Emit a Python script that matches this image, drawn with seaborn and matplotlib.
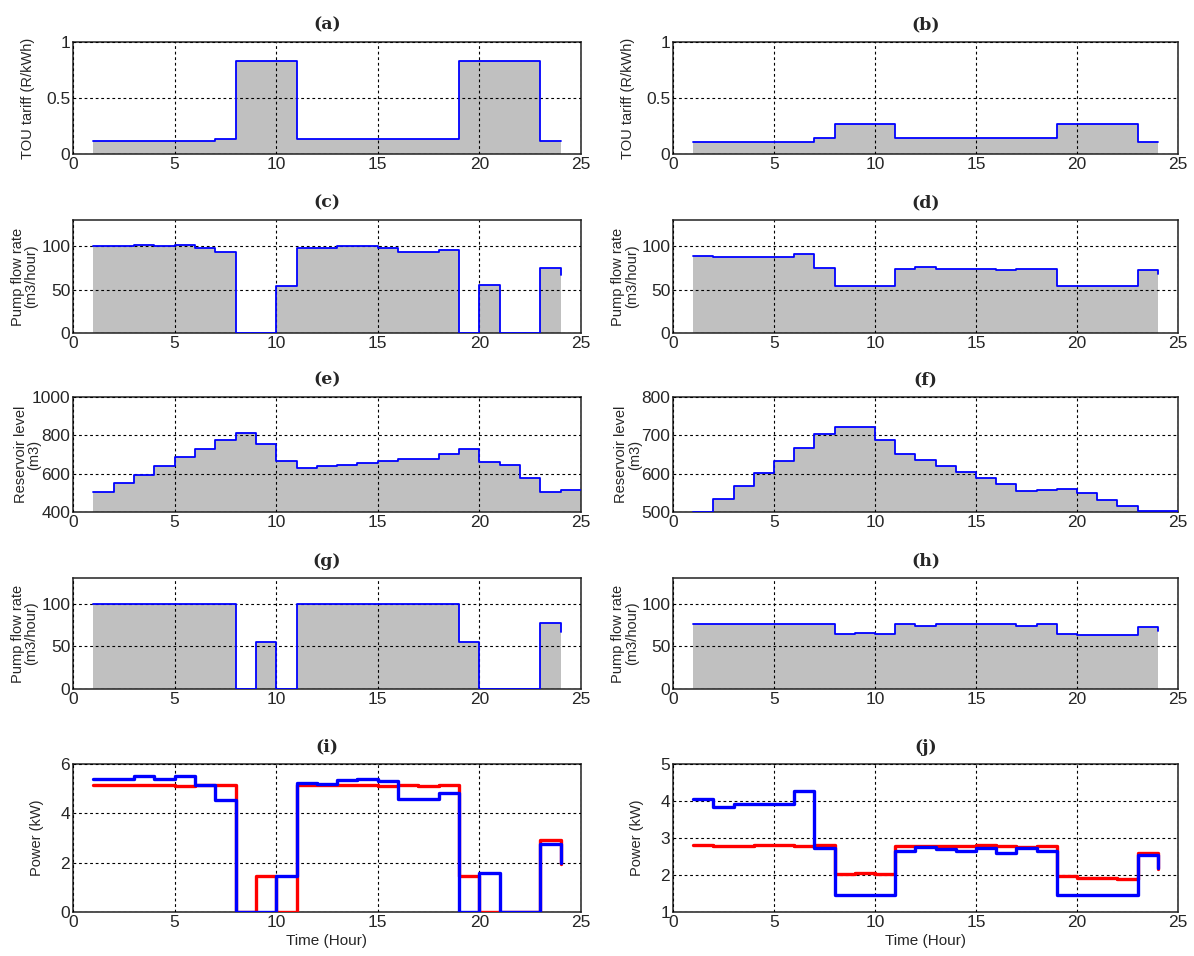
import matplotlib
matplotlib.use('Agg')
import matplotlib.pyplot as plt
import seaborn as sns
import pandas as pd

sns.set_style('white')
plt.rcParams['font.family'] = ['Liberation Sans', 'DejaVu Sans']

# ------------------------------------------------------------
# data
# ------------------------------------------------------------
hours = [1, 2, 3, 4, 5, 6, 7, 8, 9, 10, 11, 12, 13, 14, 15, 16, 17, 18, 19, 20, 21, 22, 23, 24]
hours25 = [1, 2, 3, 4, 5, 6, 7, 8, 9, 10, 11, 12, 13, 14, 15, 16, 17, 18, 19, 20, 21, 22, 23, 24, 25]

tou_a = [0.12, 0.12, 0.12, 0.12, 0.12, 0.12, 0.137, 0.827, 0.827, 0.827, 0.137, 0.137,
         0.137, 0.137, 0.137, 0.137, 0.137, 0.137, 0.827, 0.827, 0.827, 0.827, 0.12, 0.12]
tou_b = [0.107, 0.107, 0.107, 0.107, 0.107, 0.107, 0.145, 0.27, 0.27, 0.27, 0.145, 0.145,
         0.145, 0.145, 0.145, 0.145, 0.145, 0.145, 0.27, 0.27, 0.27, 0.27, 0.107, 0.107]

flow_c = [100, 100, 101, 100, 101, 98, 93, 0, 0, 54, 98, 98,
          100, 100, 98, 93, 93, 95, 0, 55, 0, 0, 75, 67]
flow_d = [88.5, 87, 88, 88, 88, 91, 75, 54.5, 54.5, 54.5, 74, 75.5,
          74, 74, 74, 73, 74, 74, 54.5, 54.5, 54.5, 54.5, 73, 68]

level_e = [506, 551, 595, 640, 685, 729, 774, 812, 755, 664, 631, 638, 645,
           657, 664, 677, 677, 704, 727, 659, 647, 576, 506, 513, 513]
level_f = [500, 535, 568, 601, 632, 668, 703, 723, 723, 688, 652, 636, 620,
           604, 588, 572, 555, 558, 561, 549, 532, 516, 503, 503, 503]

flow_g = [99, 99, 99, 99, 99, 99, 99, 0, 54.5, 0, 99, 99,
          99, 99, 99, 99, 99, 99, 54.5, 0, 0, 0, 77, 67]
flow_h = [75.8, 75.8, 75.8, 75.8, 75.8, 75.8, 75.8, 64, 65.8, 64, 75.8, 74,
          75.8, 75.8, 75.8, 75.8, 74, 75.8, 64.6, 63, 63, 63, 72.7, 68.5]

power_i_red = [5.15, 5.15, 5.15, 5.15, 5.1, 5.15, 5.15, 0, 1.45, 0, 5.15, 5.15,
               5.15, 5.15, 5.1, 5.15, 5.1, 5.15, 1.45, 0, 0, 0, 2.93, 1.95]
power_i_blue = [5.38, 5.38, 5.5, 5.38, 5.5, 5.15, 4.55, 0, 0, 1.45, 5.25, 5.17,
                5.37, 5.41, 5.3, 4.57, 4.57, 4.83, 0, 1.59, 0, 0, 2.75, 2.0]
power_j_red = [2.81, 2.78, 2.78, 2.81, 2.81, 2.79, 2.8, 2.02, 2.05, 2.02, 2.78, 2.78,
               2.78, 2.78, 2.81, 2.79, 2.76, 2.78, 1.97, 1.92, 1.92, 1.88, 2.59, 2.16]
power_j_blue = [4.06, 3.85, 3.93, 3.93, 3.93, 4.26, 2.73, 1.45, 1.45, 1.45, 2.65, 2.77,
                2.69, 2.64, 2.72, 2.59, 2.73, 2.65, 1.45, 1.45, 1.45, 1.45, 2.55, 2.2]

# ------------------------------------------------------------
# layout helpers
# ------------------------------------------------------------
W, H = 1194, 956
fig = plt.figure(figsize=(W / 100, H / 100), dpi=100)

COLS = [(73, 581), (673, 1178)]
ROWS = [(42, 154), (220, 333), (397, 512), (578, 689), (764, 912)]
GRAY = '#c0c0c0'
GRID = dict(color='black', linestyle=(0, (2.5, 2.5)), linewidth=0.8)


def make_ax(row, col):
    l, r = COLS[col]
    t, b = ROWS[row]
    return fig.add_axes([l / W, 1 - b / H, (r - l) / W, (b - t) / H])


def style(ax, title, ylim, yticks, yticklabels, ylabel, label_x, xlabel=None):
    ax.set_xlim(0, 25)
    ax.set_ylim(*ylim)
    ax.set_xticks([0, 5, 10, 15, 20, 25])
    ax.set_yticks(yticks)
    ax.set_yticklabels(yticklabels)
    ax.tick_params(labelsize=12.5, direction='in', length=3, width=0.8, pad=2)
    ax.grid(True, **GRID)
    ax.set_axisbelow(False)
    for s in ax.spines.values():
        s.set_color('#222222')
        s.set_linewidth(1.1)
    ax.set_title(title, family='DejaVu Serif', fontweight='bold', fontsize=12.5, pad=9)
    ax.set_ylabel(ylabel, fontsize=10.5, linespacing=0.95)
    ax.yaxis.set_label_coords(label_x, 0.5)
    if xlabel:
        ax.set_xlabel(xlabel, fontsize=11, labelpad=3)
    else:
        ax.set_xlabel('')


def filled_stairs(ax, x, y, base):
    ax.fill_between(x, y, base, step='post', color=GRAY, linewidth=0, zorder=1)
    sns.lineplot(x=x, y=y, ax=ax, color='#0000ff', linewidth=1.3,
                 drawstyle='steps-post', estimator=None, sort=False, zorder=3)


# ------------------------------------------------------------
# panels
# ------------------------------------------------------------
panels = [
    (0, 0, '(a)', hours, tou_a, (0, 1), [0, 0.5, 1], ['0', '0.5', '1'], 'TOU tariff (R/kWh)', -0.075),
    (0, 1, '(b)', hours, tou_b, (0, 1), [0, 0.5, 1], ['0', '0.5', '1'], 'TOU tariff (R/kWh)', -0.075),
    (1, 0, '(c)', hours, flow_c, (0, 130), [0, 50, 100], ['0', '50', '100'], 'Pump flow rate\n(m3/hour)', -0.068),
    (1, 1, '(d)', hours, flow_d, (0, 130), [0, 50, 100], ['0', '50', '100'], 'Pump flow rate\n(m3/hour)', -0.068),
    (2, 0, '(e)', hours25, level_e, (400, 1000), [400, 600, 800, 1000], ['400', '600', '800', '1000'], 'Reservoir level\n(m3)', -0.062),
    (2, 1, '(f)', hours25, level_f, (500, 800), [500, 600, 700, 800], ['500', '600', '700', '800'], 'Reservoir level\n(m3)', -0.062),
    (3, 0, '(g)', hours, flow_g, (0, 130), [0, 50, 100], ['0', '50', '100'], 'Pump flow rate\n(m3/hour)', -0.068),
    (3, 1, '(h)', hours, flow_h, (0, 130), [0, 50, 100], ['0', '50', '100'], 'Pump flow rate\n(m3/hour)', -0.068),
]

for row, col, title, x, y, ylim, yt, ytl, ylabel, lx in panels:
    ax = make_ax(row, col)
    filled_stairs(ax, x, y, ylim[0])
    style(ax, title, ylim, yt, ytl, ylabel, lx)

# power panels: red and blue stairs, no fill
power = [
    (0, '(i)', power_i_red, power_i_blue, (0, 6), [0, 2, 4, 6], ['0', '2', '4', '6']),
    (1, '(j)', power_j_red, power_j_blue, (1, 5), [1, 2, 3, 4, 5], ['1', '2', '3', '4', '5']),
]
for col, title, red, blue, ylim, yt, ytl in power:
    ax = make_ax(4, col)
    df = pd.DataFrame({'hour': hours, 'red': red, 'blue': blue})
    sns.lineplot(data=df, x='hour', y='red', ax=ax, color='#ff0000', linewidth=2.4,
                 drawstyle='steps-post', estimator=None, sort=False, zorder=3)
    sns.lineplot(data=df, x='hour', y='blue', ax=ax, color='#0000ff', linewidth=2.4,
                 drawstyle='steps-post', estimator=None, sort=False, zorder=4)
    style(ax, title, ylim, yt, ytl, 'Power (kW)', -0.058, xlabel='Time (Hour)')

fig.savefig('out.png', dpi=100)
